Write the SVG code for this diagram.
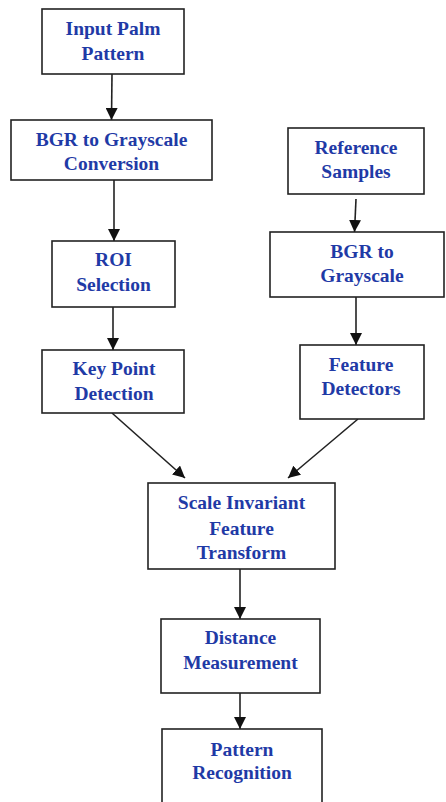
<svg xmlns="http://www.w3.org/2000/svg" width="446" height="802" viewBox="0 0 446 802">
<style>
.box{fill:#fff;stroke:#222;stroke-width:1.6}
.t{font-family:'Liberation Serif','DejaVu Serif',serif;font-weight:700;font-size:19.5px;fill:#1f3aa6;text-anchor:middle}
.c{stroke:#222;stroke-width:1.6;fill:none;marker-end:url(#ah)}
</style>
<defs>
<marker id="ah" markerUnits="userSpaceOnUse" markerWidth="12" markerHeight="12" viewBox="0 0 12 12" refX="12" refY="6" orient="auto">
<path d="M0,0 L12,6 L0,12 z" fill="#111"/>
</marker>
</defs>
<rect width="446" height="802" fill="#fff"/>
<g id="connectors">
<line class="c" x1="112" y1="74" x2="111.5" y2="120"/>
<line class="c" x1="114" y1="180" x2="114" y2="241"/>
<line class="c" x1="113" y1="307" x2="113" y2="350"/>
<line class="c" x1="356" y1="199" x2="354.5" y2="232"/>
<line class="c" x1="356" y1="297" x2="356" y2="345"/>
<line class="c" x1="112" y1="413" x2="185" y2="478"/>
<line class="c" x1="358" y1="419" x2="288" y2="478"/>
<line class="c" x1="240" y1="569" x2="240" y2="619"/>
<line class="c" x1="240" y1="693" x2="240" y2="729"/>
</g>
<g id="n1"><rect class="box" x="42" y="9" width="142" height="65"/><text class="t" x="113" y="35">Input Palm</text><text class="t" x="113" y="60">Pattern</text></g>
<g id="n2"><rect class="box" x="11" y="120" width="201" height="60"/><text class="t" x="111.5" y="146">BGR to Grayscale</text><text class="t" x="111.5" y="170">Conversion</text></g>
<g id="n3"><rect class="box" x="52" y="241" width="123" height="66"/><text class="t" x="113.5" y="266">ROI</text><text class="t" x="113.5" y="291">Selection</text></g>
<g id="n4"><rect class="box" x="42" y="350" width="142" height="63"/><text class="t" x="114" y="375">Key Point</text><text class="t" x="114" y="400">Detection</text></g>
<g id="n5"><rect class="box" x="288" y="128" width="136" height="66"/><text class="t" x="356" y="154">Reference</text><text class="t" x="356" y="178">Samples</text></g>
<g id="n6"><rect class="box" x="270" y="232" width="174" height="65"/><text class="t" x="362" y="258">BGR to</text><text class="t" x="362" y="282">Grayscale</text></g>
<g id="n7"><rect class="box" x="300" y="345" width="124" height="74"/><text class="t" x="361" y="371">Feature</text><text class="t" x="361" y="395">Detectors</text></g>
<g id="n8"><rect class="box" x="148" y="483" width="187" height="86"/><text class="t" x="241.5" y="509">Scale Invariant</text><text class="t" x="241.5" y="535">Feature</text><text class="t" x="241.5" y="559">Transform</text></g>
<g id="n9"><rect class="box" x="161" y="619" width="159" height="74"/><text class="t" x="240.5" y="644">Distance</text><text class="t" x="240.5" y="669">Measurement</text></g>
<g id="n10"><rect class="box" x="162" y="729" width="160" height="80"/><text class="t" x="242" y="756">Pattern</text><text class="t" x="242" y="779">Recognition</text></g>
</svg>
